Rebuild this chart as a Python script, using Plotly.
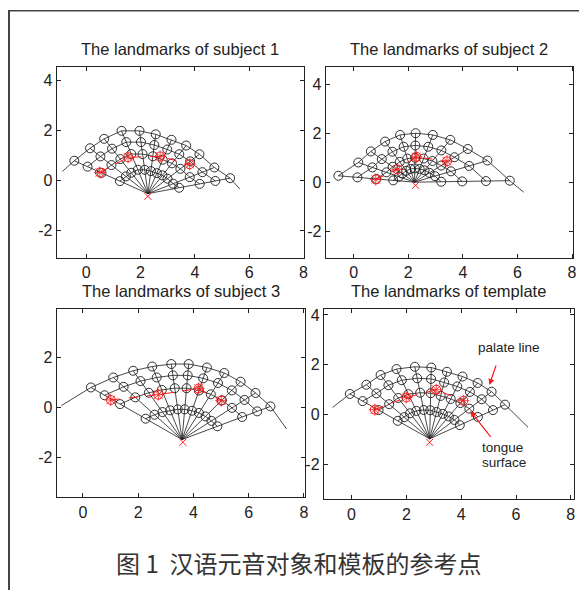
import numpy as np
import plotly.graph_objects as go

# ---------------- data ----------------
titles = ["The landmarks of subject 1", "The landmarks of subject 2",
          "The landmarks of subject 3", "The landmarks of template"]

# fan centre (origin of the radial grid lines)
centers_x = [2.27, 2.23, 3.59, 2.85]
centers_y = [-0.53, 0.01, -1.28, -0.97]

# outer (palate) landmarks of each panel
s1_palate_x = [-0.44, 0.14, 0.66, 1.30, 1.96, 2.56, 3.14, 3.68, 4.17, 4.72, 5.30]
s1_palate_y = [0.79, 1.29, 1.67, 1.99, 1.99, 1.85, 1.63, 1.40, 1.05, 0.52, 0.09]
s2_palate_x = [-0.56, 0.17, 0.63, 1.15, 1.70, 2.27, 2.90, 3.54, 4.18, 4.90, 5.72]
s2_palate_y = [0.27, 0.81, 1.26, 1.66, 1.93, 2.00, 1.93, 1.73, 1.36, 0.89, 0.07]
s3_palate_x = [0.29, 1.10, 1.82, 2.51, 3.20, 3.83, 4.49, 5.12, 5.71, 6.25, 6.79]
s3_palate_y = [0.81, 1.21, 1.48, 1.65, 1.75, 1.75, 1.61, 1.39, 1.04, 0.59, 0.05]
s4_palate_x = [-0.06, 0.54, 1.06, 1.64, 2.31, 2.91, 3.48, 4.05, 4.60, 5.11, 5.60]
s4_palate_y = [0.83, 1.20, 1.59, 1.83, 1.92, 1.89, 1.72, 1.53, 1.27, 0.92, 0.40]

# palate curve end points (start, end)
s1_palate_end_x = [-0.88, 5.66]
s1_palate_end_y = [0.36, -0.35]
s2_palate_end_x = [-0.56, 6.23]
s2_palate_end_y = [0.27, -0.40]
s3_palate_end_x = [-0.78, 7.37]
s3_palate_end_y = [0.08, -0.85]
s4_palate_end_x = [-0.69, 6.44]
s4_palate_end_y = [0.29, -0.51]

# relative position of the inner landmark rows along each radial line
s1_rows = [0.38, 0.63, 0.82]
s2_rows = [0.28, 0.50, 0.75]
s3_rows = [0.40, 0.68, 0.85]
s4_rows = [0.40, 0.64, 0.84]

# red reference points (tongue)
s1_ref_x = [0.50, 1.54, 2.72, 3.81]
s1_ref_y = [0.32, 0.93, 0.96, 0.65]
s2_ref_x = [0.81, 1.60, 2.30, 3.42]
s2_ref_y = [0.12, 0.53, 1.04, 0.86]
s3_ref_x = [1.01, 2.73, 4.19, 5.01]
s3_ref_y = [0.31, 0.52, 0.77, 0.28]
s4_ref_x = [0.85, 2.00, 3.09, 4.08]
s4_ref_y = [0.20, 0.69, 1.00, 0.56]

# red origin mark
origin_x = [2.27, 2.27, 3.62, 2.85]
origin_y = [-0.64, -0.12, -1.39, -1.11]

x_ticks = [0, 2, 4, 6, 8]
x_tick_text = ["0", "2", "4", "6", "8"]
y_ticks = [-2, 0, 2, 4]
y_tick_text = ["-2", "0", "2", "4"]

# ---------------- figure ----------------
W, H = 587, 590
OFF = 8  # page body margin of the browser

def fx(p):
    return (p - OFF) / W

def fy(p):
    return 1 - (p - OFF) / H

panels = [
    dict(px=s1_palate_x, py=s1_palate_y, ex=s1_palate_end_x, ey=s1_palate_end_y, rows=s1_rows,
         rx=s1_ref_x, ry=s1_ref_y, box=(57, 306, 65, 257), xr=[-1.09, 8.02], yr=[-3.12, 4.56]),
    dict(px=s2_palate_x, py=s2_palate_y, ex=s2_palate_end_x, ey=s2_palate_end_y, rows=s2_rows,
         rx=s2_ref_x, ry=s2_ref_y, box=(328, 577, 65, 257), xr=[-1.02, 8.04], yr=[-3.08, 4.70]),
    dict(px=s3_palate_x, py=s3_palate_y, ex=s3_palate_end_x, ey=s3_palate_end_y, rows=s3_rows,
         rx=s3_ref_x, ry=s3_ref_y, box=(57, 307, 308, 497), xr=[-0.95, 8.04], yr=[-3.60, 3.96]),
    dict(px=s4_palate_x, py=s4_palate_y, ex=s4_palate_end_x, ey=s4_palate_end_y, rows=s4_rows,
         rx=s4_ref_x, ry=s4_ref_y, box=(326, 578, 308, 499), xr=[-1.01, 8.12], yr=[-3.40, 4.24]),
]

BLACK = "#1a1a1a"
RED = "#ff1a1a"
FONT = "Liberation Sans, Arial, sans-serif"
fig = go.Figure()
layout = {}
annotations = []

for i, p in enumerate(panels):
    k = "" if i == 0 else str(i + 1)
    xa, ya = "x" + k, "y" + k
    cx, cy = centers_x[i], centers_y[i]
    ox, oy = np.array(p["px"]), np.array(p["py"])

    # radial lines
    rx_, ry_ = [], []
    for a, b in zip(ox, oy):
        rx_ += [cx, a, None]
        ry_ += [cy, b, None]
    fig.add_trace(go.Scatter(x=rx_, y=ry_, mode="lines", xaxis=xa, yaxis=ya,
                             line=dict(color=BLACK, width=0.8), hoverinfo="skip", showlegend=False))
    # inner rows of landmarks
    for t in p["rows"]:
        gx = cx + t * (ox - cx)
        gy = cy + t * (oy - cy)
        fig.add_trace(go.Scatter(x=gx, y=gy, mode="lines+markers", xaxis=xa, yaxis=ya,
                                 line=dict(color=BLACK, width=0.8),
                                 marker=dict(symbol="circle-open", size=9, color=BLACK, line=dict(width=0.9)),
                                 hoverinfo="skip", showlegend=False))
    # palate line
    pcx = [p["ex"][0]] + list(ox) + [p["ex"][1]]
    pcy = [p["ey"][0]] + list(oy) + [p["ey"][1]]
    fig.add_trace(go.Scatter(x=pcx, y=pcy, mode="lines", xaxis=xa, yaxis=ya,
                             line=dict(color=BLACK, width=0.8), hoverinfo="skip", showlegend=False))
    fig.add_trace(go.Scatter(x=ox, y=oy, mode="markers", xaxis=xa, yaxis=ya,
                             marker=dict(symbol="circle-open", size=9, color=BLACK, line=dict(width=0.9)),
                             hoverinfo="skip", showlegend=False))
    # red reference points
    fig.add_trace(go.Scatter(x=p["rx"], y=p["ry"], mode="lines+markers", xaxis=xa, yaxis=ya,
                             line=dict(color=RED, width=1, dash="dash"),
                             marker=dict(symbol="circle-open", size=9, color=RED, line=dict(width=1)),
                             hoverinfo="skip", showlegend=False))
    fig.add_trace(go.Scatter(x=p["rx"], y=p["ry"], mode="markers", xaxis=xa, yaxis=ya,
                             marker=dict(symbol="asterisk-open", size=10, color=RED, line=dict(width=0.8, color=RED)),
                             hoverinfo="skip", showlegend=False))
    fig.add_trace(go.Scatter(x=[origin_x[i]], y=[origin_y[i]], mode="markers", xaxis=xa, yaxis=ya,
                             marker=dict(symbol="x-thin-open", size=7, color=RED, line=dict(width=1, color=RED)),
                             hoverinfo="skip", showlegend=False))

    x0, x1, y0, y1 = p["box"]
    axis_common = dict(showgrid=False, zeroline=False, showline=True, linecolor="#222", linewidth=1.2,
                       mirror="ticks", ticks="inside", ticklen=4, tickwidth=1, tickcolor="#222",
                       tickfont=dict(family=FONT, size=16, color="#222"))
    layout["xaxis" + k] = dict(domain=[fx(x0), fx(x1)], range=p["xr"], tickvals=x_ticks,
                               ticktext=x_tick_text, anchor=ya, **axis_common)
    layout["yaxis" + k] = dict(domain=[fy(y1), fy(y0)], range=p["yr"], tickvals=y_ticks,
                               ticktext=y_tick_text, anchor=xa, **axis_common)
    ty = 47 if i < 2 else 290
    annotations.append(dict(text=titles[i], xref="paper", yref="paper", x=fx((x0 + x1) / 2),
                            y=fy(ty), xanchor="center", yanchor="middle", showarrow=False,
                            font=dict(family=FONT, size=16.5, color="#222")))

# explanatory labels in the template panel
lab_font = dict(family=FONT, size=13.5, color="#222")
annotations += [
    dict(text="palate line", xref="x4", yref="y4", x=4.54, y=2.69, xanchor="left", yanchor="middle",
         showarrow=False, font=lab_font),
    dict(text="tongue", xref="x4", yref="y4", x=4.68, y=-1.31, xanchor="left", yanchor="middle",
         showarrow=False, font=lab_font),
    dict(text="surface", xref="x4", yref="y4", x=4.68, y=-1.91, xanchor="left", yanchor="middle",
         showarrow=False, font=lab_font),
    dict(text="", xref="x4", yref="y4", x=5.03, y=1.19, axref="x4", ayref="y4", ax=5.29, ay=2.03,
         showarrow=True, arrowhead=2, arrowsize=1, arrowwidth=1.2, arrowcolor=RED),
    dict(text="", xref="x4", yref="y4", x=4.33, y=0.15, axref="x4", ayref="y4", ax=5.12, ay=-0.95,
         showarrow=True, arrowhead=2, arrowsize=1, arrowwidth=1.2, arrowcolor=RED),
    dict(text="图 1  汉语元音对象和模板的参考点", xref="paper", yref="paper", x=fx(300), y=fy(562),
         xanchor="center", yanchor="middle", showarrow=False,
         font=dict(family="Noto Sans CJK SC, sans-serif", size=24, color="#333")),
]

fig.update_layout(
    width=W, height=H, margin=dict(l=0, r=0, t=0, b=0),
    paper_bgcolor="white", plot_bgcolor="white", showlegend=False,
    annotations=annotations,
    shapes=[
        dict(type="line", xref="paper", yref="paper", x0=1 / W, x1=1 / W, y0=0, y1=1,
             line=dict(color="#444", width=2)),
        dict(type="line", xref="paper", yref="paper", x0=0, x1=1, y0=1 - 0.8 / H, y1=1 - 0.8 / H,
             line=dict(color="#444", width=1.5)),
    ],
    **layout,
)

fig.write_html("out.html")
